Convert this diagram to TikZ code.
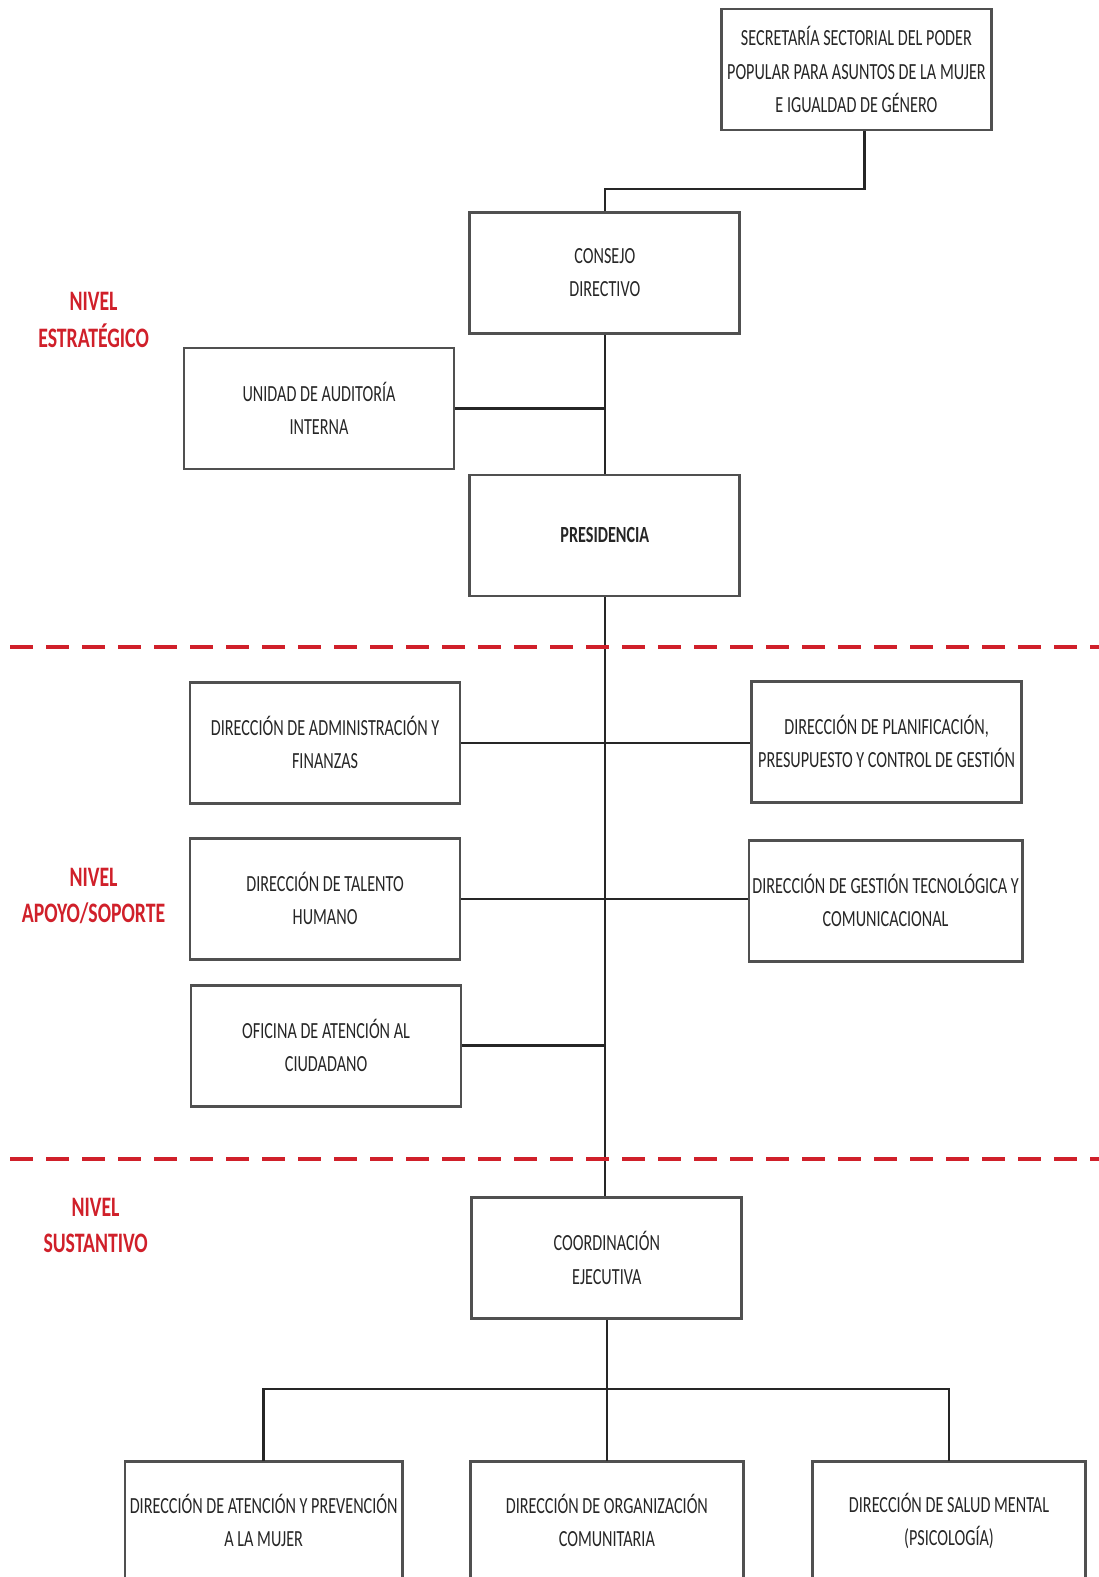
\documentclass[tikz,border=0pt]{standalone}
\usepackage{fontspec}
\setmainfont{Carlito}[FakeStretch=0.7]
\usetikzlibrary{arrows,shapes,positioning}

\begin{document}
\begin{tikzpicture}[x=1.0064pt, y=-1.0064pt]

  \definecolor{nivelred}{RGB}{208,32,42}
  \definecolor{boxgray}{RGB}{80,80,80}
  \tikzset{unidad/.style =
	{draw = boxgray, line width = 2.8pt, fill = white,
	minimum width = 270pt, minimum height = 121pt,
	align = center, text = black!85,
	font = \fontsize{23.1}{33.2}\selectfont},
	abierta/.style = {unidad, draw = none, minimum height = 116pt},
	marco/.style = {boxgray, line width = 2.8pt},
	enlace/.style = {line width = 2.4pt, black!85},
	corte/.style = {nivelred, line width = 4pt, dash pattern = on 23pt off 13pt},
	nivel/.style = {nivelred, align = center,
	font = \fontsize{28.2}{36.2}\selectfont\bfseries}}

  \useasboundingbox (0,0) rectangle (1092,1567);

  % nivel estrategico
  \node[unidad] (sec)  at (851,69)  {SECRETARÍA SECTORIAL DEL PODER\\POPULAR PARA ASUNTOS DE LA MUJER\\E IGUALDAD DE GÉNERO};
  \node[unidad] (cons) at (601,271) {CONSEJO\\DIRECTIVO};
  \node[unidad] (aud)  at (317,406) {UNIDAD DE AUDITORÍA\\INTERNA};
  \node[unidad] (pres) at (601,532) {\bfseries PRESIDENCIA};

  % nivel apoyo
  \node[unidad] (adm)  at (323,738)  {DIRECCIÓN DE ADMINISTRACIÓN Y\\FINANZAS};
  \node[unidad] (plan) at (881,737)  {DIRECCIÓN DE PLANIFICACIÓN,\\PRESUPUESTO Y CONTROL DE GESTIÓN};
  \node[unidad] (tal)  at (323,893)  {DIRECCIÓN DE TALENTO\\HUMANO};
  \node[unidad] (tec)  at (880,895)  {DIRECCIÓN DE GESTIÓN TECNOLÓGICA Y\\COMUNICACIONAL};
  \node[unidad] (ofi)  at (324,1039) {OFICINA DE ATENCIÓN AL\\CIUDADANO};

  % nivel sustantivo (cortadas abajo)
  \node[unidad] (coord) at (603,1250) {COORDINACIÓN\\EJECUTIVA};
  \node[abierta] (dam) at (262,1511) {DIRECCIÓN DE ATENCIÓN Y PREVENCIÓN\\A LA MUJER};
  \node[abierta] (dor) at (603,1511) {DIRECCIÓN DE ORGANIZACIÓN\\COMUNITARIA};
  \node[abierta] (dsm) at (943,1511) {DIRECCIÓN DE SALUD MENTAL\\(PSICOLOGÍA)};
  \foreach \u in {dam,dor,dsm}
    \draw[marco] ([yshift=-14pt]\u.south west) |- (\u.north east) -- ([yshift=-14pt]\u.south east);

  \node[nivel] (n1) at (93,318)  {NIVEL\\ESTRATÉGICO};
  \node[nivel] (n2) at (93,890)  {NIVEL\\APOYO/SOPORTE};
  \node[nivel] (n3) at (95,1218) {NIVEL\\SUSTANTIVO};

  \coordinate (k1) at (601,188);
  \coordinate (k2) at (601,1380);
  \coordinate (c1a) at (10,643);
  \coordinate (c1b) at (1092,643);
  \coordinate (c2a) at (10,1152);
  \coordinate (c2b) at (1092,1152);

  \draw[enlace] ([xshift=8pt]sec.south) |- (k1) -- (cons.north);
  \draw[enlace] (cons.south) -- (pres.north);
  \draw[enlace] (aud.east) -- (aud.east -| cons.south);
  \draw[enlace] (pres.south) -- (pres.south |- coord.north);
  \draw[enlace] (adm.east) -- (adm.east -| plan.west);
  \draw[enlace] (tal.east) -- (tal.east -| tec.west);
  \draw[enlace] (ofi.east) -- (ofi.east -| pres.south);
  \draw[enlace] (coord.south) -- (dor.north);
  \draw[enlace] (dam.north) |- (k2) -| (dsm.north);

  \draw[corte] (c1a) -- (c1b);
  \draw[corte] (c2a) -- (c2b);

\end{tikzpicture}
\end{document}
